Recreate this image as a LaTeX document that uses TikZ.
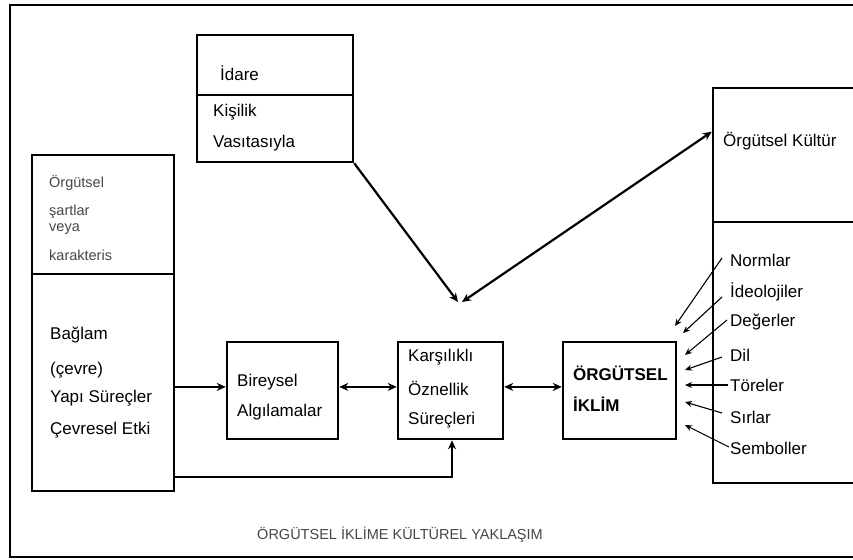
\documentclass[tikz,border=0pt]{standalone}
\usepackage{fontspec}
\setmainfont{Liberation Sans}
\usetikzlibrary{arrows.meta,calc}
\begin{document}
\begin{tikzpicture}[x=1pt,y=-1pt,
  box/.style={draw,line width=2.5pt,inner sep=0pt},
  txt/.style={anchor=west,inner sep=0pt,font=\fontsize{17}{20}\selectfont},
  small/.style={anchor=west,inner sep=0pt,font=\fontsize{14.5}{17}\selectfont,text=black!72},
  arr/.style={line width=2.2pt,-{Stealth[length=9pt,width=8pt]}},
  darr/.style={line width=2.2pt,{Stealth[length=9pt,width=8pt]}-{Stealth[length=9pt,width=8pt]}},
  thinarr/.style={line width=1.1pt,-{Stealth[length=7pt,width=6pt]}}]
\useasboundingbox (0,0) rectangle (853,559);
\clip (0,0) rectangle (853,559);
\fill[white] (0,0) rectangle (853,559);

% outer frame
\draw[line width=2.8pt] (10,5) rectangle (900,557);

% boxes
\node[box,minimum width=156pt,minimum height=127pt] (idare) at (275,98.5) {};
\node[box,minimum width=142pt,minimum height=336pt] (left) at (103,323) {};
\node[box,minimum width=111pt,minimum height=97pt] (bir) at (282.5,390.5) {};
\node[box,minimum width=105pt,minimum height=97pt] (karsi) at (450.5,390.5) {};
\node[box,minimum width=113pt,minimum height=97pt] (iklim) at (619.5,390.5) {};
\node[box,minimum width=187pt,minimum height=395pt] (kultur) at (806.5,285.5) {};

% dividers
\draw[line width=2.5pt] (idare.west |- 0,95) -- (idare.east |- 0,95);
\draw[line width=2.5pt] (left.west |- 0,274) -- (left.east |- 0,274);
\draw[line width=2.5pt] (kultur.west |- 0,222) -- (kultur.east |- 0,222);

% texts
\node[txt] (t1) at (220,73) {İdare};
\node[txt] (t2) at (213,112) {Kişilik};
\node[txt] (t3) at (213,143) {Vasıtasıyla};

\node[small] (s1) at (49,183) {Örgütsel};
\node[small] (s2) at (49,212) {şartlar};
\node[small] (s3) at (49,229) {veya};
\node[small] (s4) at (49,255) {karakteris};

\node[txt] (b1) at (50,335) {Bağlam};
\node[txt] (b2) at (50,370) {(çevre)};
\node[txt] (b3) at (50,398) {Yapı Süreçler};
\node[txt] (b4) at (50,430) {Çevresel Etki};

\node[txt] (r1) at (237,382) {Bireysel};
\node[txt] (r2) at (237,412) {Algılamalar};

\node[txt] (k1) at (408,357) {Karşılıklı};
\node[txt] (k2) at (408,388) {Öznellik};
\node[txt] (k3) at (408,420) {Süreçleri};

\node[txt,font=\fontsize{17}{20}\selectfont\bfseries] (i1) at (573,373) {ÖRGÜTSEL};
\node[txt,font=\fontsize{17}{20}\selectfont\bfseries] (i2) at (573,404) {İKLİM};

\node[txt] (ok) at (723,141) {Örgütsel Kültür};

\node[txt] (nl) at (730,260) {Normlar};
\node[txt] (id) at (730,292) {İdeolojiler};
\node[txt] (dg) at (730,322) {Değerler};
\node[txt] (dl) at (730,355) {Dil};
\node[txt] (tr) at (730,385) {Töreler};
\node[txt] (sr) at (730,417) {Sırlar};
\node[txt] (sb) at (730,448) {Semboller};

\node[small,anchor=center] (cap) at (400,535) {ÖRGÜTSEL İKLİME KÜLTÜREL YAKLAŞIM};

% connectors in the middle row
\coordinate (row) at ([yshift=3.6pt]bir.west);
\draw[arr] (left.east |- row) -- (bir.west |- row);
\draw[darr] (bir.east |- row) -- (karsi.west |- row);
\draw[darr] (karsi.east |- row) -- (iklim.west |- row);

% feedback from context to intersubjective processes
\draw[arr] ([yshift=15pt]left.south east) -| ([xshift=1.5pt]karsi.south);

% leadership and culture meeting above the middle row
\coordinate (va) at (458,302);
\coordinate (vb) at (462,302);
\draw[arr] (idare.south east) -- (va);
\draw[darr] (vb) -- ([yshift=-45pt]kultur.north west);

% cultural elements feeding the climate
\coordinate (e1) at (675,326);
\coordinate (e2) at (683,333);
\coordinate (e3) at (685,355);
\coordinate (e4) at (685,370);
\coordinate (e5) at (685,385);
\coordinate (e6) at (685,402);
\coordinate (e7) at (685,425);
\draw[thinarr] ([shift={(-8,-2)}]nl.west) -- (e1);
\draw[thinarr] ([shift={(-8,5)}]id.west) -- (e2);
\draw[thinarr] ([shift={(-3,-2)}]dg.west) -- (e3);
\draw[thinarr] ([shift={(-8,2)}]dl.west) -- (e4);
\draw[thinarr] ([shift={(-2,0)}]tr.west) -- (e5);
\draw[thinarr] ([shift={(-8,-4)}]sr.west) -- (e6);
\draw[thinarr] ([shift={(-1,-1)}]sb.west) -- (e7);
\end{tikzpicture}
\end{document}
